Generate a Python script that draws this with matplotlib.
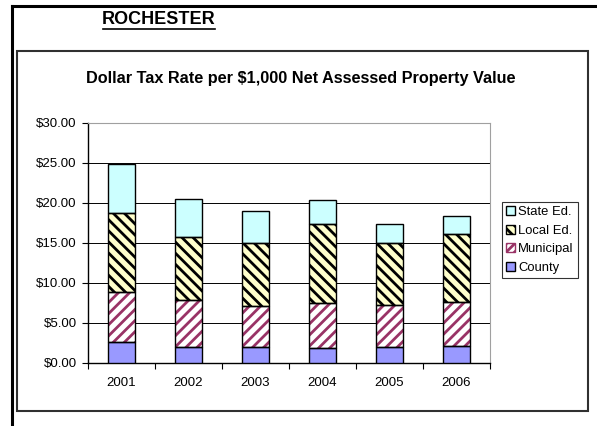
import matplotlib.pyplot as plt
import numpy as np
from matplotlib.patches import Patch, Rectangle
from matplotlib.lines import Line2D

plt.rcParams['font.family'] = ['Liberation Sans', 'DejaVu Sans']
plt.rcParams['hatch.linewidth'] = 2.0

# datos
anios = ["2001", "2002", "2003", "2004", "2005", "2006"]
county = [2.6, 2.0, 2.0, 1.9, 2.0, 2.1]
municipal = [6.3, 5.9, 5.1, 5.6, 5.3, 5.5]
local_ed = [9.8, 7.8, 7.9, 9.9, 7.7, 8.5]
state_ed = [6.2, 4.8, 4.0, 3.0, 2.4, 2.3]
y_ticks = [0, 5, 10, 15, 20, 25, 30]

fig = plt.figure(figsize=(5.97, 4.26), dpi=100)
ax = fig.add_axes([88 / 597, 1 - 363 / 426, 402 / 597, 240 / 426])

x = np.arange(len(anios))
w = 0.4
base = np.zeros(len(anios))

# capas: (valores, relleno, trama, color de trama)
capas = [
    (county, "#9999FF", None, "black"),
    (municipal, "white", "///", "#993366"),
    (local_ed, "#FFFFCC", "\\\\\\", "black"),
    (state_ed, "#CCFFFF", None, "black"),
]
for vals, fc, hatch, hc in capas:
    ax.bar(x, vals, w, bottom=base, color=fc, hatch=hatch, edgecolor=hc, linewidth=0, zorder=3)
    ax.bar(x, vals, w, bottom=base, fill=False, edgecolor="black", linewidth=1.0, zorder=4)
    base = base + np.array(vals)

ax.set_xlim(-0.5, len(anios) - 0.5)
ax.set_ylim(0, 30)
ax.set_yticks(y_ticks)
ax.set_yticklabels(["$%.2f" % v for v in y_ticks], fontsize=9.5)
ax.set_xticks(x)
ax.set_xticklabels(anios, fontsize=9.5)
ax.set_xticks(np.arange(len(anios) + 1) - 0.5, minor=True)
ax.tick_params(axis="x", which="major", length=0, pad=10)
ax.tick_params(axis="x", which="minor", length=4, width=0.8, direction="out")
ax.tick_params(axis="y", length=4, width=0.8, pad=4)
ax.yaxis.grid(True, color="black", linewidth=0.7, zorder=0)
ax.set_axisbelow(True)
for s in ["top", "right"]:
    ax.spines[s].set_color("#A0A0A0")
ax.spines["left"].set_linewidth(1.0)
ax.spines["bottom"].set_linewidth(1.0)

handles = [
    Patch(facecolor="#CCFFFF", edgecolor="black", label="State Ed."),
    Patch(facecolor="#FFFFCC", edgecolor="black", hatch="\\\\\\", label="Local Ed."),
    Patch(facecolor="white", edgecolor="#993366", hatch="////", label="Municipal"),
    Patch(facecolor="#9999FF", edgecolor="black", label="County"),
]
leg = fig.legend(handles=handles, loc="upper left", bbox_to_anchor=(502 / 597, 1 - 202 / 426),
                 fontsize=9.4, frameon=True, fancybox=False, edgecolor="black",
                 handlelength=0.7, handleheight=0.7, handletextpad=0.25,
                 borderpad=0.3, labelspacing=0.5, borderaxespad=0)
leg.get_frame().set_linewidth(0.8)

# titulos
fig.text(159 / 597, 1 - 19 / 426, "ROCHESTER", fontsize=13, fontweight="bold",
         ha="center", va="center")
fig.add_artist(Line2D([103 / 597, 215 / 597], [1 - 29 / 426, 1 - 29 / 426], color="black", linewidth=1.2))
fig.text(301 / 597, 1 - 78 / 426, "Dollar Tax Rate per $1,000 Net Assessed Property Value",
         fontsize=11.7, fontweight="bold", ha="center", va="center")

# marcos
fig.add_artist(Rectangle((17 / 597, 1 - 411 / 426), 571 / 597, 360 / 426, fill=False,
                         edgecolor="#303030", linewidth=1.5))
fig.add_artist(Line2D([12 / 597, 1], [1 - 6 / 426, 1 - 6 / 426], color="black", linewidth=2.2))
fig.add_artist(Line2D([12 / 597, 12 / 597], [1 - 6 / 426, 0], color="black", linewidth=2.2))

fig.savefig("out.png", dpi=100)
